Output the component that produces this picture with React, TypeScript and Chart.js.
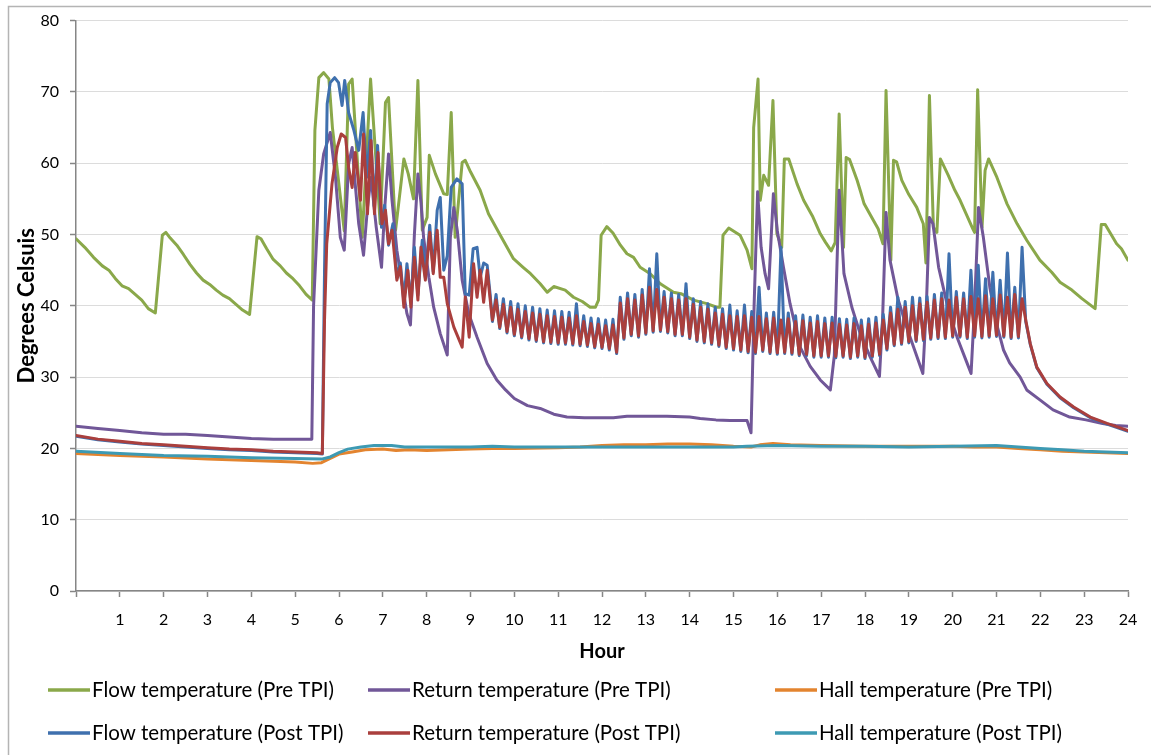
import React, { useEffect, useRef } from 'react';
import { Chart, registerables } from 'chart.js';

Chart.register(...registerables);

const FONT = 'Lato, "Open Sans", "DejaVu Sans", sans-serif';

const seriesLabels = [
  'Flow temperature (Pre TPI)',
  'Return temperature (Pre TPI)',
  'Hall temperature (Pre TPI)',
  'Flow temperature (Post TPI)',
  'Return temperature (Post TPI)',
  'Hall temperature (Post TPI)',
];
const seriesColors = ['#8AA84A', '#715798', '#E3842F', '#3F70AE', '#AA3F3D', '#3D9AB3'];

const xTickHours = [0, 1, 2, 3, 4, 5, 6, 7, 8, 9, 10, 11, 12, 13, 14, 15, 16, 17, 18, 19, 20, 21, 22, 23, 24];
const yTickValues = [0, 10, 20, 30, 40, 50, 60, 70, 80];

// [hour, °C]
const flowPre: [number, number][] = [
  [0, 49.4], [0.2, 48.2], [0.4, 46.8], [0.6, 45.6], [0.75, 45.0], [0.9, 43.8], [1.05, 42.8], [1.2, 42.4],
  [1.35, 41.6], [1.5, 40.8], [1.65, 39.6], [1.81, 39.0], [1.97, 49.9], [2.05, 50.3], [2.15, 49.5], [2.3, 48.5],
  [2.45, 47.2], [2.6, 45.8], [2.75, 44.6], [2.9, 43.6], [3.05, 43.0], [3.2, 42.2], [3.35, 41.5], [3.5, 41.0],
  [3.65, 40.2], [3.8, 39.4], [3.96, 38.8], [4.13, 49.7], [4.22, 49.4], [4.35, 48.0], [4.5, 46.5], [4.66, 45.6],
  [4.8, 44.6], [4.95, 43.8], [5.1, 42.8], [5.25, 41.6], [5.39, 40.8], [5.45, 64.6], [5.54, 72.0], [5.65, 72.7],
  [5.77, 71.8], [5.85, 65.0], [6.12, 50.5], [6.22, 71.1], [6.30, 71.8], [6.53, 49.6], [6.72, 71.8], [6.94, 51.5],
  [7.06, 68.5], [7.13, 69.2], [7.29, 50.6], [7.48, 60.6], [7.58, 58.5], [7.70, 55.0], [7.80, 71.6], [7.90, 50.6],
  [8.01, 52.4], [8.06, 61.1], [8.2, 58.5], [8.39, 55.7], [8.47, 55.6], [8.56, 67.1], [8.65, 49.6], [8.81, 60.1],
  [8.88, 60.4], [9.0, 58.8], [9.22, 56.2], [9.41, 52.9], [9.68, 49.9], [9.98, 46.6], [10.2, 45.4], [10.37, 44.5],
  [10.59, 43.1], [10.75, 41.9], [10.9, 42.7], [11.16, 42.2], [11.35, 41.2], [11.55, 40.6], [11.73, 39.8], [11.85, 39.8],
  [11.92, 40.8], [11.98, 49.9], [12.11, 51.1], [12.25, 50.2], [12.42, 48.5], [12.57, 47.3], [12.72, 46.8], [12.87, 45.4],
  [13.1, 44.5], [13.33, 43.1], [13.63, 41.9], [13.8, 41.7], [14.09, 40.8], [14.39, 40.3], [14.62, 39.8], [14.69, 39.8],
  [14.76, 49.9], [14.89, 50.9], [15.15, 49.9], [15.31, 47.8], [15.42, 45.2], [15.46, 65.0], [15.56, 71.8], [15.61, 54.8],
  [15.69, 58.3], [15.8, 56.9], [15.90, 68.8], [15.99, 50.1], [16.10, 48.2], [16.16, 60.6], [16.26, 60.6], [16.45, 57.1],
  [16.60, 54.8], [16.8, 52.6], [16.98, 50.1], [17.1, 48.9], [17.23, 47.7], [17.32, 48.9], [17.41, 66.9], [17.51, 48.2],
  [17.57, 60.8], [17.65, 60.5], [17.82, 57.6], [17.9, 56.0], [17.98, 54.3], [18.19, 52.0], [18.3, 50.8], [18.41, 48.7],
  [18.48, 70.2], [18.59, 46.4], [18.65, 60.4], [18.72, 60.2], [18.84, 57.6], [19.0, 55.6], [19.18, 53.8], [19.33, 51.5],
  [19.39, 46.0], [19.47, 69.5], [19.56, 51.0], [19.64, 50.3], [19.72, 60.6], [19.90, 58.3], [20.05, 56.2], [20.17, 54.8],
  [20.3, 53.0], [20.46, 50.8], [20.50, 50.3], [20.57, 70.3], [20.67, 51.0], [20.74, 59.0], [20.82, 60.6], [21.01, 58.0],
  [21.24, 54.3], [21.47, 51.5], [21.69, 49.2], [21.99, 46.4], [22.26, 44.7], [22.45, 43.3], [22.72, 42.2], [22.95, 41.0],
  [23.25, 39.6], [23.39, 51.4], [23.48, 51.4], [23.74, 48.7], [23.85, 48.0], [24.0, 46.4],
];

const returnPre: [number, number][] = [
  [0, 23.1], [0.5, 22.8], [1, 22.5], [1.5, 22.2], [2, 22.0], [2.5, 22.0], [3, 21.8], [3.5, 21.6], [4, 21.4],
  [4.5, 21.3], [5, 21.3], [5.38, 21.3], [5.42, 40.0], [5.54, 56.2], [5.65, 61.3], [5.80, 64.3], [5.92, 58.0],
  [6.03, 49.6], [6.12, 47.8], [6.22, 59.9], [6.30, 62.2], [6.37, 57.1], [6.45, 51.5], [6.56, 47.1], [6.65, 53.8],
  [6.73, 58.0], [6.85, 51.0], [6.97, 45.4], [7.04, 53.4], [7.13, 61.3], [7.21, 54.8], [7.32, 47.8], [7.44, 43.1],
  [7.55, 38.9], [7.63, 37.3], [7.72, 50.0], [7.80, 58.5], [7.87, 54.5], [7.93, 49.6], [8.05, 44.0], [8.16, 39.8],
  [8.31, 36.1], [8.47, 33.1], [8.54, 49.6], [8.62, 53.8], [8.7, 50.5], [8.81, 43.6], [8.96, 38.9], [9.15, 35.6],
  [9.38, 31.9], [9.60, 29.6], [9.8, 28.2], [10.0, 27.0], [10.3, 26.0], [10.59, 25.6], [10.9, 24.8], [11.2, 24.4],
  [11.6, 24.3], [12.26, 24.3], [12.57, 24.5], [13.0, 24.5], [13.48, 24.5], [14.0, 24.4], [14.24, 24.2], [14.6, 24.0],
  [14.92, 23.9], [15.31, 23.9], [15.40, 22.2], [15.47, 40.0], [15.55, 56.0], [15.63, 48.2], [15.72, 44.5], [15.80, 42.4],
  [15.91, 55.7], [16.0, 50.5], [16.14, 45.4], [16.29, 40.3], [16.52, 34.2], [16.75, 31.5], [16.98, 29.6], [17.21, 28.2],
  [17.3, 33.0], [17.41, 56.2], [17.52, 44.5], [17.70, 39.8], [17.89, 36.1], [18.12, 32.8], [18.33, 30.1], [18.40, 38.0],
  [18.48, 53.1], [18.57, 46.4], [18.75, 41.0], [18.95, 37.0], [19.15, 33.5], [19.32, 30.5], [19.40, 40.0], [19.47, 52.4],
  [19.55, 51.5], [19.68, 45.4], [19.9, 39.5], [20.10, 35.6], [20.32, 32.1], [20.42, 30.5], [20.50, 40.0], [20.59, 53.8],
  [20.70, 49.6], [20.85, 42.5], [21.01, 37.3], [21.16, 33.8], [21.3, 32.0], [21.54, 30.0], [21.69, 28.2], [21.99, 26.8],
  [22.29, 25.4], [22.67, 24.4], [23.04, 24.0], [23.42, 23.5], [23.72, 23.2], [24.0, 23.1],
];

const hallPre: [number, number][] = [
  [0, 19.3], [1, 19.0], [2, 18.8], [3, 18.5], [4, 18.3], [5, 18.1], [5.4, 17.9], [5.6, 18.0], [5.8, 18.6],
  [6.0, 19.2], [6.3, 19.5], [6.6, 19.8], [7.0, 19.9], [7.3, 19.7], [7.6, 19.8], [8.0, 19.7], [8.5, 19.8],
  [9.0, 19.9], [9.5, 20.0], [10, 20.0], [11, 20.1], [11.5, 20.2], [12, 20.4], [12.5, 20.5], [13, 20.5],
  [13.5, 20.6], [14, 20.6], [14.5, 20.5], [15.0, 20.3], [15.4, 20.2], [15.6, 20.5], [15.9, 20.7], [16.3, 20.5],
  [17, 20.4], [18, 20.3], [19, 20.3], [19.5, 20.3], [20, 20.3], [20.5, 20.2], [21, 20.2], [21.5, 20.0],
  [22, 19.8], [22.5, 19.6], [23, 19.5], [23.5, 19.4], [24, 19.3],
];

const flowPostHead: [number, number][] = [
  [0, 21.7], [0.5, 21.2], [1, 20.9], [1.5, 20.6], [2, 20.4], [2.5, 20.2], [3, 20.0], [3.5, 19.8], [4, 19.7],
  [4.5, 19.5], [5, 19.4], [5.5, 19.3], [5.62, 19.2], [5.67, 45.0], [5.73, 68.3], [5.80, 71.3], [5.90, 72.0],
  [5.99, 71.3], [6.07, 68.1], [6.13, 71.6], [6.22, 67.1], [6.34, 64.6], [6.45, 61.8], [6.55, 67.1], [6.63, 58.0],
  [6.72, 64.6], [6.80, 54.0], [6.88, 62.5], [6.97, 51.0], [7.04, 54.1], [7.13, 48.5], [7.23, 51.5], [7.32, 44.0],
  [7.40, 46.0], [7.48, 40.5], [7.55, 45.9], [7.64, 40.5], [7.72, 48.2], [7.80, 41.5], [7.90, 49.2], [7.97, 44.0],
  [8.07, 51.3], [8.15, 44.8], [8.24, 53.4], [8.31, 55.2], [8.39, 45.0], [8.47, 47.0], [8.56, 56.6], [8.69, 57.8],
  [8.81, 57.1], [8.88, 41.7], [8.97, 41.5], [9.06, 48.0], [9.15, 48.2], [9.22, 44.0], [9.30, 46.0], [9.38, 45.7],
  [9.45, 41.5],
];

const returnPostHead: [number, number][] = [
  [0, 21.8], [0.5, 21.3], [1, 21.0], [1.5, 20.7], [2, 20.5], [2.5, 20.3], [3, 20.1], [3.5, 19.9], [4, 19.8],
  [4.5, 19.6], [5, 19.5], [5.5, 19.4], [5.62, 19.3], [5.67, 38.0], [5.72, 48.7], [5.84, 57.1], [5.96, 62.2],
  [6.05, 64.1], [6.15, 63.6], [6.22, 59.4], [6.30, 56.6], [6.37, 61.5], [6.49, 54.8], [6.56, 64.1], [6.65, 52.9],
  [6.73, 63.2], [6.81, 52.9], [6.89, 61.5], [6.98, 51.5], [7.06, 53.4], [7.13, 48.7], [7.21, 50.6], [7.32, 43.6],
  [7.40, 45.5], [7.48, 39.8], [7.57, 45.0], [7.64, 39.8], [7.72, 46.8], [7.80, 40.8], [7.87, 48.2], [7.97, 43.6],
  [8.07, 50.3], [8.15, 44.5], [8.24, 50.6], [8.31, 44.0], [8.39, 44.0], [8.47, 40.3], [8.62, 37.0], [8.81, 34.2],
  [8.88, 41.2], [8.97, 35.6], [9.07, 45.9], [9.15, 41.2], [9.22, 45.0], [9.30, 40.5], [9.38, 45.0], [9.45, 40.8],
];

// 5-minute readings from 09:30 to 21:40
const oscStartHour = 9.5;
const oscStepHours = 1 / 12;
const returnPostOsc = [
  38.0, 40.8, 37.0, 40.2, 36.4, 39.8, 36.0, 39.5, 35.7, 39.2, 35.4, 39.0,
  35.2, 38.8, 35.0, 38.6, 34.9, 38.5, 34.8, 38.4, 34.8, 38.3, 34.7, 38.6,
  34.6, 37.8, 34.5, 37.5, 34.3, 37.4, 34.2, 37.2, 34.0, 37.3, 33.5, 40.4,
  35.5, 41.0, 36.0, 40.8, 35.8, 41.5, 36.2, 42.6, 36.5, 42.3, 36.6, 41.2,
  36.4, 41.0, 36.0, 40.8, 36.0, 41.0, 35.6, 40.2, 35.2, 39.8, 35.0, 39.5,
  34.8, 39.0, 34.5, 38.8, 34.2, 38.6, 34.0, 38.5, 33.8, 38.6, 33.6, 38.4,
  33.5, 38.5, 33.8, 38.2, 33.5, 38.3, 33.4, 38.0, 33.5, 38.2, 33.4, 37.8,
  33.2, 37.9, 33.2, 37.6, 33.0, 37.8, 33.0, 37.5, 33.0, 37.6, 32.9, 37.4,
  33.0, 37.3, 32.8, 37.5, 33.0, 37.2, 32.8, 37.4, 33.0, 37.6, 33.2, 38.0,
  34.0, 39.0, 34.6, 39.5, 34.8, 39.8, 35.0, 40.0, 35.2, 40.3, 35.3, 40.5,
  35.5, 40.8, 35.6, 41.0, 35.6, 40.8, 35.8, 41.2, 35.8, 41.0, 35.6, 41.3,
  35.8, 41.0, 35.7, 41.4, 35.8, 41.0, 35.9, 41.5, 35.8, 41.2, 35.6, 41.6,
  35.7, 41.0, 38.0,
];
const flowPostOsc = [
  37.8, 41.6, 36.8, 41.0, 36.2, 40.6, 35.8, 40.3, 35.5, 40.0, 35.2, 39.8,
  35.0, 39.6, 34.8, 39.4, 34.7, 39.3, 34.6, 39.2, 34.6, 39.1, 34.5, 40.3,
  34.4, 38.6, 34.3, 38.3, 34.1, 38.2, 34.0, 38.0, 33.8, 38.1, 33.3, 41.2,
  35.3, 41.8, 35.8, 41.6, 35.6, 42.3, 36.0, 45.2, 36.3, 47.3, 36.4, 42.0,
  36.2, 41.8, 35.8, 41.6, 35.8, 43.1, 35.4, 41.0, 35.0, 40.6, 34.8, 40.3,
  34.6, 39.8, 34.3, 39.6, 34.0, 40.1, 33.8, 39.3, 33.6, 40.1, 33.4, 39.2,
  33.3, 42.6, 33.6, 39.0, 33.3, 39.1, 33.2, 48.2, 33.3, 39.0, 33.2, 38.6,
  33.0, 38.7, 33.0, 38.4, 32.8, 38.6, 32.8, 38.3, 32.8, 38.4, 32.7, 38.2,
  32.8, 38.1, 32.6, 38.3, 32.8, 38.0, 32.6, 38.2, 32.8, 38.4, 33.0, 38.8,
  33.8, 39.8, 34.4, 41.2, 34.6, 40.6, 34.8, 41.2, 35.0, 41.1, 35.1, 41.3,
  35.3, 41.6, 35.4, 41.8, 35.4, 47.3, 35.6, 42.0, 35.6, 41.8, 35.4, 45.0,
  35.6, 45.7, 35.5, 43.8, 35.6, 44.7, 35.7, 43.6, 35.6, 47.4, 35.4, 42.6,
  35.5, 48.2, 37.8,
];

const returnPostTail: [number, number][] = [
  [21.77, 34.7], [21.92, 31.4], [22.15, 29.1], [22.45, 27.2], [22.76, 25.8], [23.14, 24.4], [23.52, 23.5], [24.0, 22.5],
];
const flowPostTail: [number, number][] = [
  [21.77, 34.6], [21.92, 31.3], [22.15, 29.0], [22.45, 27.1], [22.76, 25.7], [23.14, 24.3], [23.52, 23.4], [24.0, 22.4],
];

const hallPost: [number, number][] = [
  [0, 19.6], [1, 19.3], [2, 19.0], [3, 18.9], [4, 18.7], [5, 18.6], [5.6, 18.5], [5.8, 18.8], [6.0, 19.4],
  [6.2, 19.9], [6.5, 20.2], [6.8, 20.4], [7.2, 20.4], [7.5, 20.2], [8, 20.2], [9, 20.2], [9.5, 20.3],
  [10, 20.2], [11, 20.2], [12, 20.2], [13, 20.2], [14, 20.2], [15, 20.2], [15.3, 20.3], [16, 20.4],
  [17, 20.3], [18, 20.3], [19, 20.2], [20, 20.3], [21, 20.4], [21.5, 20.2], [22, 20.0], [22.5, 19.8],
  [23, 19.6], [23.5, 19.5], [24, 19.4],
];

const toPoints = (pairs: [number, number][]) => pairs.map(([x, y]) => ({ x, y }));
const oscPoints = (vals: number[]) => vals.map((y, i) => ({ x: oscStartHour + i * oscStepHours, y }));

const chartBorderPlugin = {
  id: 'chartBorder',
  beforeDraw(chart: any) {
    const ctx = chart.ctx;
    ctx.save();
    ctx.strokeStyle = '#b4b4b4';
    ctx.lineWidth = 1.5;
    ctx.strokeRect(8.5, 6.5, 1300, 900);
    ctx.restore();
  },
};

const columnLegendPlugin = {
  id: 'columnLegend',
  afterDraw(chart: any) {
    const ctx = chart.ctx;
    const colX = [48, 368, 775];
    const rowY = [690, 733];
    ctx.save();
    chart.data.datasets.forEach((ds: any, i: number) => {
      const x = colX[i % 3];
      const y = rowY[Math.floor(i / 3)];
      ctx.strokeStyle = ds.borderColor;
      ctx.lineWidth = 3.5;
      ctx.lineCap = 'butt';
      ctx.beginPath();
      ctx.moveTo(x, y);
      ctx.lineTo(x + 42, y);
      ctx.stroke();
      ctx.fillStyle = '#000';
      ctx.font = `20.5px ${FONT}`;
      ctx.textBaseline = 'middle';
      ctx.textAlign = 'left';
      ctx.fillText(ds.label, x + 44, y);
    });
    ctx.restore();
  },
};

export default function App() {
  const canvasRef = useRef<HTMLCanvasElement | null>(null);

  useEffect(() => {
    document.body.style.margin = '0';
    const canvas = canvasRef.current;
    if (!canvas) return;
    const seriesData = [
      toPoints(flowPre),
      toPoints(returnPre),
      toPoints(hallPre),
      [...toPoints(flowPostHead), ...oscPoints(flowPostOsc), ...toPoints(flowPostTail)],
      [...toPoints(returnPostHead), ...oscPoints(returnPostOsc), ...toPoints(returnPostTail)],
      toPoints(hallPost),
    ];
    const chart = new Chart(canvas, {
      type: 'line',
      data: {
        datasets: seriesData.map((data, i) => ({
          label: seriesLabels[i],
          data,
          borderColor: seriesColors[i],
          backgroundColor: seriesColors[i],
          borderWidth: 3,
          pointRadius: 0,
          tension: 0,
          borderJoinStyle: 'round' as const,
          borderCapStyle: 'round' as const,
          order: seriesLabels.length - i,
        })),
      },
      options: {
        animation: false,
        responsive: false,
        devicePixelRatio: 1,
        layout: { padding: { top: 20, right: 23, bottom: 0, left: 0 } },
        plugins: {
          legend: { display: false },
          tooltip: { enabled: false },
        },
        scales: {
          x: {
            type: 'linear',
            min: 0,
            max: 24,
            afterFit: (scale: any) => { scale.height = 164; },
            afterBuildTicks: (scale: any) => { scale.ticks = xTickHours.map((v) => ({ value: v })); },
            ticks: {
              autoSkip: false,
              maxRotation: 0,
              padding: 13,
              color: '#000',
              font: { family: FONT, size: 16 },
              callback: (v: any) => (v === 0 ? '' : String(v)),
            },
            grid: { drawOnChartArea: false, drawTicks: true, tickLength: 6, tickColor: '#868686', tickWidth: 1.5 },
            border: { color: '#868686', width: 1.5 },
            title: {
              display: true,
              text: 'Hour',
              color: '#000',
              font: { family: FONT, size: 20, weight: 'bold' },
              padding: { top: 0, bottom: 91 },
            },
          },
          y: {
            min: 0,
            max: 80,
            afterFit: (scale: any) => { scale.width = 76; },
            afterBuildTicks: (scale: any) => { scale.ticks = yTickValues.map((v) => ({ value: v })); },
            ticks: {
              padding: 11,
              color: '#000',
              font: { family: FONT, size: 16 },
            },
            grid: { color: '#dcdcdc', lineWidth: 1, drawTicks: true, tickLength: 6, tickColor: '#868686', tickWidth: 1.5 },
            border: { color: '#868686', width: 1.5 },
            title: {
              display: true,
              text: 'Degrees Celsuis',
              color: '#000',
              font: { family: FONT, size: 22, weight: 'bold' },
              padding: { top: 14, bottom: 0 },
            },
          },
        },
      },
      plugins: [chartBorderPlugin, columnLegendPlugin],
    });
    return () => chart.destroy();
  }, []);

  return (
    <div style={{ width: 1151, height: 755, position: 'relative' }}>
      <canvas ref={canvasRef} width={1151} height={755} style={{ display: 'block' }} />
    </div>
  );
}
